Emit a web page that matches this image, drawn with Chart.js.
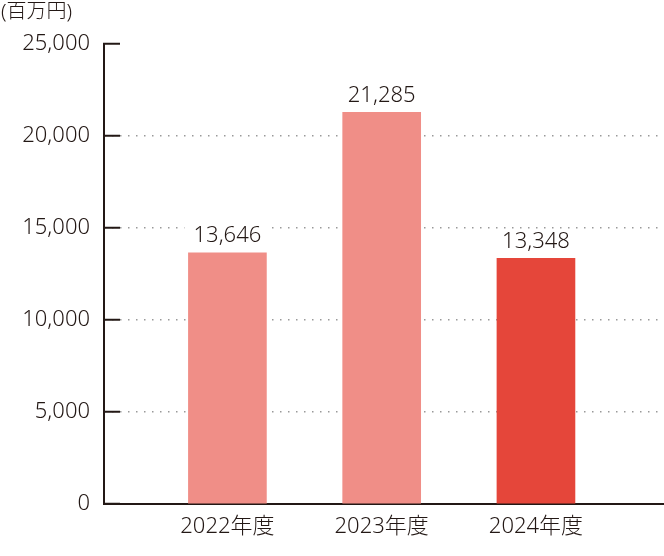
<!DOCTYPE html>
<html><head><meta charset="utf-8">
<script src="https://cdn.jsdelivr.net/npm/chart.js@4.4.0/dist/chart.umd.min.js"></script>
<style>html,body{margin:0;padding:0;background:#fff}#wrap{position:relative;width:664px;height:556px}</style>
</head><body><div id="wrap"><canvas id="c"></canvas></div>
<script>
const categories = ['2022年度', '2023年度', '2024年度'];
const positions = [1, 2, 3];
const values = [13646, 21285, 13348];
const barColors = ['#F08E87', '#F08E87', '#E5463A'];
const yTickValues = [0, 5000, 10000, 15000, 20000, 25000];
const unitLabel = '(百万円)';

const FONT = "'Noto Sans', 'Noto Sans CJK JP', sans-serif";
const INK = '#231815';
const WEIGHT = 300;

const barLabels = {
  id: 'barLabels',
  afterDatasetsDraw(chart) {
    const ctx = chart.ctx;
    const meta = chart.getDatasetMeta(0);
    ctx.save();
    ctx.font = WEIGHT + ' 22px ' + FONT;
    ctx.textAlign = 'center';
    ctx.textBaseline = 'middle';
    meta.data.forEach((bar, i) => {
      const cy = bar.y - 17;
      const w = bar.width + 8;
      ctx.fillStyle = '#fff';
      ctx.fillRect(bar.x - w / 2, cy - 12, w, 22);
      ctx.fillStyle = INK;
      ctx.fillText(values[i].toLocaleString('en-US'), bar.x, cy);
    });
    ctx.restore();
  }
};

const unitText = {
  id: 'unitText',
  afterDraw(chart) {
    const ctx = chart.ctx;
    ctx.save();
    ctx.font = WEIGHT + ' 20px ' + FONT;
    ctx.fillStyle = INK;
    ctx.textAlign = 'left';
    ctx.textBaseline = 'middle';
    ctx.fillText(unitLabel, 1, 12);
    ctx.restore();
  }
};

new Chart(document.getElementById('c'), {
  type: 'bar',
  data: {
    datasets: [{
      data: values.map((v, i) => ({ x: positions[i], y: v })),
      backgroundColor: barColors,
      borderWidth: 0,
      barThickness: 78
    }]
  },
  plugins: [barLabels, unitText],
  options: {
    responsive: true,
    maintainAspectRatio: false,
    animation: false,
    devicePixelRatio: 1,
    layout: { padding: { top: 44, right: 0, bottom: 0, left: 0 } },
    plugins: { legend: { display: false }, tooltip: { enabled: false } },
    scales: {
      x: {
        type: 'linear',
        position: 'bottom',
        offset: false,
        min: 0.2,
        max: 3.83,
        z: 1,
        afterBuildTicks: (s) => { s.ticks = positions.map(v => ({ value: v })); },
        afterFit: (s) => { s.height = 52; },
        grid: { display: false, drawTicks: false, offset: false },
        border: { display: true, color: INK, width: 2 },
        ticks: {
          autoSkip: false,
          maxRotation: 0,
          padding: 10,
          color: INK,
          font: { family: FONT, size: 22, weight: WEIGHT },
          callback: (v) => { const i = positions.indexOf(v); return i >= 0 ? categories[i] : ''; }
        }
      },
      y: {
        min: 0,
        max: 25000,
        afterBuildTicks: (s) => { s.ticks = yTickValues.map(v => ({ value: v })); },
        afterFit: (s) => { s.width = 104; },
        grid: {
          drawTicks: true,
          tickLength: -16,
          tickColor: INK,
          tickWidth: 2,
          lineWidth: 1.5,
          color: (c) => (c.tick && c.tick.value === 25000) ? 'rgba(0,0,0,0)' : '#999999'
        },
        border: { display: true, color: INK, width: 2, dash: [1.5, 6.5], dashOffset: 1 },
        ticks: {
          padding: 30,
          color: INK,
          font: { family: FONT, size: 22, weight: WEIGHT },
          callback: (v) => v.toLocaleString('en-US')
        }
      }
    }
  }
});
</script>
</body></html>
